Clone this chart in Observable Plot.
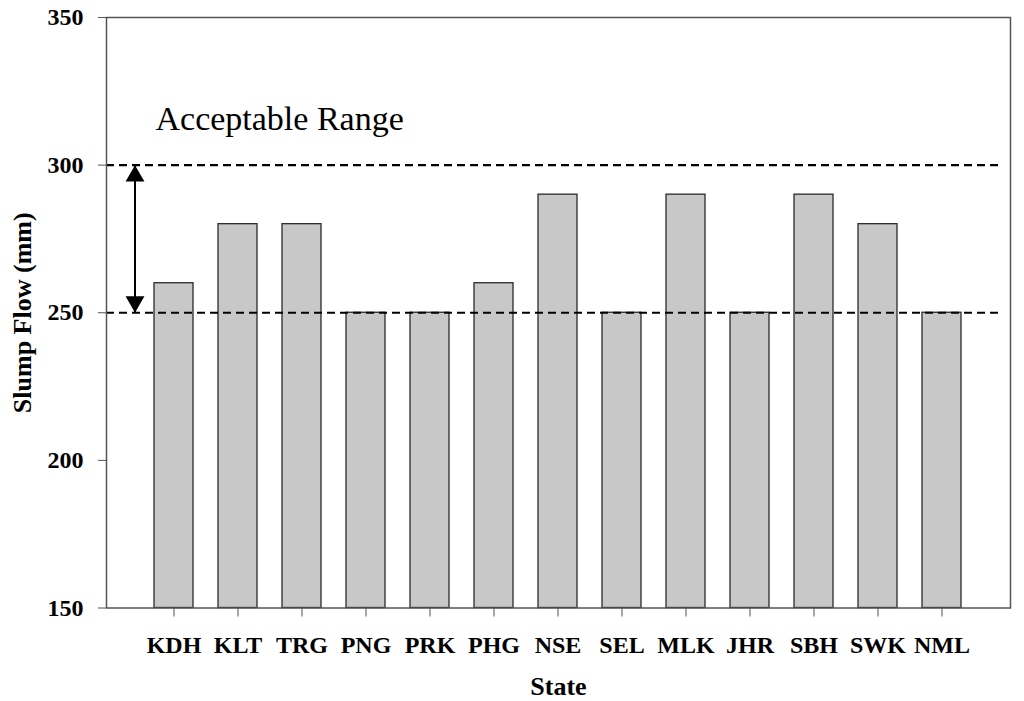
<!DOCTYPE html>
<html>
<head>
<meta charset="utf-8">
<script src="https://cdn.jsdelivr.net/npm/d3@7"></script>
<script src="https://cdn.jsdelivr.net/npm/@observablehq/plot@0.6"></script>
<style>
  html, body { margin: 0; padding: 0; background: white; }
  #chart { width: 1024px; height: 701px; }
</style>
</head>
<body>
<div id="chart"></div>
<script>
const states = ["KDH", "KLT", "TRG", "PNG", "PRK", "PHG", "NSE", "SEL", "MLK", "JHR", "SBH", "SWK", "NML"];
const slumpFlow = [260, 280, 280, 250, 250, 260, 290, 250, 290, 250, 290, 280, 250];
const yTicks = [150, 200, 250, 300, 350];
const rangeLimits = [250, 300];
const rangeLabel = "Acceptable Range";
const xTitle = "State";
const yTitle = "Slump Flow (mm)";

const data = states.map((s, i) => ({state: s, value: slumpFlow[i]}));
const font = "Liberation Serif, Times New Roman, serif";

const chart = Plot.plot({
  width: 1024,
  height: 701,
  marginLeft: 106,
  marginRight: 14,
  marginTop: 17,
  marginBottom: 93.5,
  style: {fontFamily: font, background: "white", color: "black"},
  x: {domain: states, paddingInner: 0.39, paddingOuter: 0.69},
  y: {domain: [150, 350]},
  marks: [
    Plot.barY(data, {x: "state", y1: 150, y2: "value", fill: "#c8c8c8", stroke: "#2a2a2a", strokeWidth: 1.3}),
    Plot.ruleY(rangeLimits, {stroke: "black", strokeWidth: 2.2, strokeDasharray: "8,5", insetRight: 8}),
    Plot.ruleX([{s: states[0], y1: rangeLimits[1], y2: rangeLimits[0]}], {x: "s", y1: "y1", y2: "y2", dx: -39, stroke: "black", strokeWidth: 2}),
    Plot.dot([{s: states[0], y: rangeLimits[1]}], {x: "s", y: "y", dx: -39, dy: 11, symbol: "triangle", r: 7, fill: "black", stroke: "none"}),
    Plot.dot([{s: states[0], y: rangeLimits[0]}], {x: "s", y: "y", dx: -39, dy: -11, symbol: "triangle", rotate: 180, r: 7, fill: "black", stroke: "none"}),
    Plot.text([rangeLabel], {frameAnchor: "left", y: () => 312, dx: 49, text: d => d, textAnchor: "start", lineAnchor: "bottom", fontSize: 34, fill: "black", fontFamily: font, style: "word-spacing:-4px"}),
    Plot.frame({stroke: "#555", strokeWidth: 1.5}),
    Plot.axisY({ticks: yTicks, tickSize: 8, tickPadding: 15, fontSize: 24, fontWeight: "bold", stroke: "#555", label: null, tickFormat: d => String(d)}),
    Plot.axisX({tickSize: 9, tickPadding: 18.5, fontSize: 24, fontWeight: "bold", stroke: "#555", label: null}),
    Plot.text([xTitle], {frameAnchor: "bottom", dy: 86.5, text: d => d, textAnchor: "middle", lineAnchor: "bottom", fontSize: 26, fontWeight: "bold", fill: "black"}),
    Plot.text([yTitle], {frameAnchor: "left", dx: -84, text: d => d, rotate: -90, textAnchor: "middle", lineAnchor: "middle", fontSize: 26, fontWeight: "bold", fill: "black"})
  ]
});
document.getElementById("chart").appendChild(chart);
</script>
</body>
</html>
